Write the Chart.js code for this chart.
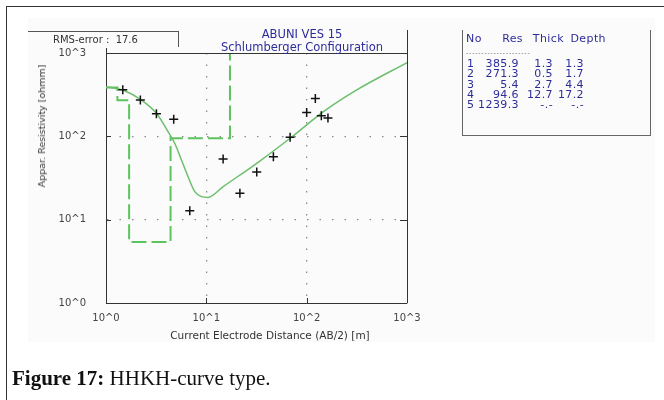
<!DOCTYPE html>
<html>
<head>
<meta charset="utf-8">
<script src="https://cdn.jsdelivr.net/npm/chart.js@4.4.1/dist/chart.umd.min.js"></script>
<style>
  body { margin: 0; width: 664px; height: 400px; position: relative; overflow: hidden; background: #fff; font-family: "DejaVu Sans", Verdana, sans-serif; }
  #frame { position: absolute; left: 6px; top: 6px; width: 700px; height: 420px; border-left: 1.5px solid #333; border-top: 1.5px solid #333; }
  #shot { position: absolute; left: 28px; top: 18px; width: 627px; height: 324px; background: #fbfbfb; }
  #ves { position: absolute; left: 0; top: 0; }
  .t { position: absolute; white-space: nowrap; }
  #rms { left: 28px; top: 31px; width: 151px; height: 16px; border-top: 1px solid #555; border-right: 1px solid #555; font-size: 10px; color: #333; line-height: 16px; padding-left: 25px; box-sizing: border-box; }
  .title { color: #2d2d9a; font-size: 11.5px; line-height: 13px; width: 300px; text-align: center; left: 152px; }
  #xt { font-size: 10.5px; color: #333; line-height: 12px; top: 329px; left: 120px; width: 300px; text-align: center; }
  #yt { font-size: 9.5px; color: #333; line-height: 12px; left: 42px; top: 126px; transform: translate(-50%, -50%) rotate(-90deg); }
  #tbl { position: absolute; left: 462px; top: 30px; width: 187px; height: 105px; border-left: 1.5px solid #666; border-right: 1.5px solid #666; border-bottom: 1.5px solid #666; color: #2d2d9a; font-size: 11px; }
  #tbl span { position: absolute; line-height: 11px; white-space: nowrap; letter-spacing: 0.4px; }
  #cap { position: absolute; left: 12px; top: 366px; font-family: "Liberation Serif", "Times New Roman", serif; font-size: 21px; line-height: 24px; color: #111; white-space: nowrap; }
</style>
</head>
<body>
<div id="frame"></div>
<div id="shot"></div>
<canvas id="ves" width="664" height="400"></canvas>
<div class="t" id="rms">RMS-error :&nbsp; 17.6</div>
<div class="t title" style="top:28px">ABUNI VES 15</div>
<div class="t title" style="top:41px">Schlumberger Configuration</div>
<div class="t" id="xt">Current Electrode Distance (AB/2) [m]</div>
<div class="t" id="yt">Appar. Resistivity [ohmm]</div>
<div id="tbl"></div>
<div id="cap"><b>Figure 17:</b> HHKH-curve type.</div>
<script>
// measured apparent resistivity (AB/2 in m, rho_a in ohmm)
const spacing = [1.47, 2.2, 3.18, 4.73, 6.84, 14.7, 21.6, 31.8, 46.6, 68.4, 100, 122, 140, 163];
const rhoMeasured = [361, 273, 186, 160, 12.8, 53.5, 20.7, 37.4, 57, 97.5, 193, 284, 176, 166];

// calculated (fitted) curve
const fitX = [1.0, 1.53, 2.25, 3.18, 4.15, 4.84, 5.65, 6.58, 7.67, 8.95, 10.4, 14.7, 31.8, 68.4, 100, 147, 316, 1000];
const fitY = [394, 353, 273, 189, 114, 82.5, 52, 32.8, 21.7, 18.9, 18.5, 24.9, 47.5, 94.9, 137, 198, 361, 767];

// layer model
const layerNo = [1, 2, 3, 4, 5];
const layerRes = [385.9, 271.3, 5.4, 94.6, 1239.3];
const layerThick = ['1.3', '0.5', '2.7', '12.7', '-.-'];
const layerDepth = ['1.3', '1.7', '4.4', '17.2', '-.-'];

const decadeTicks = [1, 10, 100, 1000];
const decadeLabels = ['10^0', '10^1', '10^2', '10^3'];

// model as a step line built from the layers
const depths = layerDepth.filter(d => d !== '-.-').map(Number);
const stepPts = [{x: 1, y: layerRes[0]}];
depths.forEach((d, i) => {
  stepPts.push({x: d, y: layerRes[i]}, {x: d, y: layerRes[i + 1]});
});

// table of layers
const tbl = document.getElementById('tbl');
function cell(txt, right, top, alignRight) {
  const s = document.createElement('span');
  s.textContent = txt;
  s.style.top = top + 'px';
  if (alignRight) s.style.right = (187 - right) + 'px'; else s.style.left = right + 'px';
  tbl.appendChild(s);
}
cell('No', 3, 3, false);
cell('Res', 60, 3, true);
cell('Thick', 101, 3, true);
cell('Depth', 143, 3, true);
const dash = document.createElement('span');
dash.textContent = '- - - - - - - - - - - - - - - - - - - - -';
dash.style.cssText = 'left:3px;top:17px;font-size:6px;color:#555;letter-spacing:-0.5px';
tbl.appendChild(dash);
layerNo.forEach((n, i) => {
  const top = 28 + i * 10.3;
  cell(String(n), 4, top, false);
  cell(layerRes[i].toFixed(1), 56, top, true);
  cell(layerThick[i], 90, top, true);
  cell(layerDepth[i], 121, top, true);
});

// plot frame, inward ticks
const framePlugin = {
  id: 'framePlugin',
  afterDraw(chart) {
    const {ctx, chartArea: a, scales: {x, y}} = chart;
    ctx.save();
    ctx.strokeStyle = '#333';
    ctx.lineWidth = 1;
    ctx.beginPath();
    ctx.moveTo(a.left, a.top + 0.5); ctx.lineTo(a.right, a.top + 0.5);
    ctx.moveTo(a.right + 0.5, a.top - 23); ctx.lineTo(a.right + 0.5, a.bottom);
    ctx.moveTo(a.left + 0.5, a.top - 5); ctx.lineTo(a.left + 0.5, a.top);
    [10, 100].forEach(v => {
      const py = Math.round(y.getPixelForValue(v)) + 0.5;
      ctx.moveTo(a.left, py); ctx.lineTo(a.left + 5, py);
      ctx.moveTo(a.right, py); ctx.lineTo(a.right - 7, py);
      const px = Math.round(x.getPixelForValue(v)) + 0.5;
      ctx.moveTo(px, a.bottom); ctx.lineTo(px, a.bottom - 5);
    });
    ctx.stroke();
    ctx.restore();
  }
};

const gridColor = c => (c.tick && (c.tick.value === 10 || c.tick.value === 100)) ? '#8a8a8a' : 'rgba(0,0,0,0)';

new Chart(document.getElementById('ves'), {
  data: {
    datasets: [
      {
        type: 'line', label: 'model', data: stepPts,
        borderColor: '#5cc45c', borderWidth: 2, borderDash: [15, 5],
        pointRadius: 0, tension: 0, order: 3
      },
      {
        type: 'line', label: 'calculated',
        data: fitX.map((v, i) => ({x: v, y: fitY[i]})),
        borderColor: '#6cbf6c', borderWidth: 1.5,
        pointRadius: 0, cubicInterpolationMode: 'monotone', order: 2
      },
      {
        type: 'scatter', label: 'measured',
        data: spacing.map((v, i) => ({x: v, y: rhoMeasured[i]})),
        pointStyle: 'cross', pointRadius: 4.5, borderColor: '#111', borderWidth: 1.5, order: 1
      }
    ]
  },
  options: {
    responsive: false,
    animation: false,
    layout: {padding: {left: 26, right: 257, top: 53, bottom: 47}},
    plugins: {legend: {display: false}, tooltip: {enabled: false}},
    scales: {
      x: {
        type: 'logarithmic', min: 1, max: 1000,
        afterBuildTicks: s => { s.ticks = decadeTicks.map(v => ({value: v})); },
        afterFit: s => { s.height = 50; },
        ticks: {
          callback: (v, i) => decadeLabels[i], color: '#444', padding: 9,
          font: {family: 'DejaVu Sans', size: 10}, maxRotation: 0, autoSkip: false
        },
        grid: {color: gridColor, lineWidth: 1.3, drawTicks: false},
        border: {display: true, color: '#333', width: 1, dash: [1.5, 10]}
      },
      y: {
        type: 'logarithmic', min: 1, max: 1000,
        afterBuildTicks: s => { s.ticks = decadeTicks.map(v => ({value: v})); },
        afterFit: s => { s.width = 80; },
        ticks: {
          callback: (v, i) => decadeLabels[i], color: '#444', padding: 20,
          font: {family: 'DejaVu Sans', size: 10}, autoSkip: false
        },
        grid: {color: gridColor, lineWidth: 1.3, drawTicks: false},
        border: {display: true, color: '#333', width: 1, dash: [1.5, 11]}
      }
    }
  },
  plugins: [framePlugin]
});
</script>
</body>
</html>
